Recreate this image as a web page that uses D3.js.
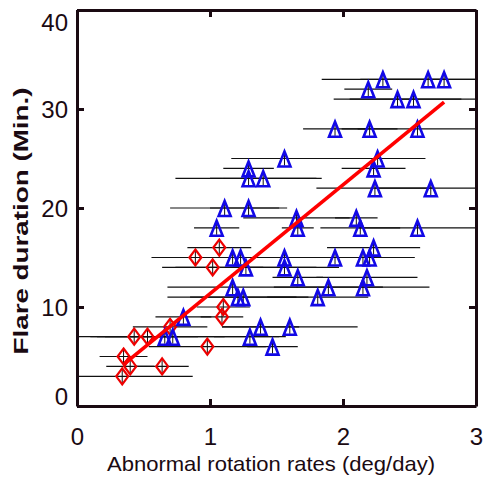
<!DOCTYPE html>
<html>
<head>
<meta charset="utf-8">
<script src="https://cdn.jsdelivr.net/npm/d3@7"></script>
<style>
  body { margin: 0; background: #fff; }
  text { font-family: "Liberation Sans", Arial, sans-serif; fill: #1a0a12; }
</style>
</head>
<body>
<div id="graph"></div>
<script>
// red diamonds: rate (deg/day), duration (min), horizontal error
var redRate = [1.07, 0.89, 1.02, 1.10, 1.09, 0.70, 0.43, 0.53, 0.98, 0.35, 0.40, 0.64, 0.34]
var redDur  = [16, 15, 14, 10, 9, 8, 7, 7, 6, 5, 4, 4, 3]
var redErr  = [0.24, 0.33, 0.38, 0.20, 0.16, 0.28, 0.33, 0.38, 0.44, 0.18, 0.18, 0.20, 0.53]

// blue triangles
var blueRate = [2.30, 2.64, 2.76, 2.19, 2.41, 2.53, 1.94, 2.20, 2.56, 1.56, 2.26,
  1.29, 2.23, 1.29, 1.40, 2.24, 2.66, 1.11, 1.29, 1.65, 2.10,
  1.05, 1.66, 2.13, 2.56, 2.23, 1.17, 1.23, 1.56, 1.94, 2.15, 2.20,
  1.27, 1.56, 1.66, 2.18, 1.17, 1.89, 2.15, 1.21, 1.25, 1.81,
  0.80, 1.38, 1.60, 0.66, 0.72, 1.30, 1.47]
var blueDur = [33, 33, 33, 32, 31, 31, 28, 28, 28, 25, 25,
  24, 24, 23, 23, 22, 22, 20, 20, 19, 19,
  18, 18, 18, 18, 16, 15, 15, 15, 15, 15, 15,
  14, 14, 13, 13, 12, 12, 12, 11, 11, 11,
  9, 8, 8, 7, 7, 7, 6]
var blueErr = [0.46, 0.51, 0.48, 0.18, 0.48, 0.48, 0.24, 0.21, 0.45, 0.40, 0.36,
  0.19, 0.24, 0.55, 0.40, 0.44, 0.42, 0.41, 0.29, 0.40, 0.16,
  0.17, 0.12, 0.30, 0.44, 0.35, 0.50, 0.45, 0.48, 0.34, 0.32, 0.34,
  0.53, 0.41, 0.19, 0.38, 0.49, 0.41, 0.50, 0.53, 0.40, 0.38,
  0.21, 0.29, 0.51, 0.45, 0.80, 0.27, 0.19]

// fitted line end points
var fitRate = [0.36, 2.76]
var fitDur = [4.3, 30.7]

var xTicks = [0, 1, 2, 3]
var yTicks = [0, 10, 20, 30, 40]

var W = 483, H = 488
var margin = {top: 10, right: 7, bottom: 82, left: 77},
  width = W - margin.left - margin.right,
  height = H - margin.top - margin.bottom

var axisColor = '#1a0a12'

var x = d3.scaleLinear().domain([0, 3]).range([0, width])
var y = d3.scaleLinear().domain([0, 40]).range([height, 0])

var svg = d3.select('#graph').append('svg')
  .attr('width', W)
  .attr('height', H)

svg.append('defs').append('clipPath').attr('id', 'plotclip')
  .append('rect').attr('width', width).attr('height', height)

var g = svg.append('g')
  .attr('transform', 'translate(' + margin.left + ',' + margin.top + ')')

function toPoints(rate, dur, err) {
  return rate.map(function(r, i) { return {x: r, y: dur[i], e: err[i]} })
}
var red = toPoints(redRate, redDur, redErr)
var blue = toPoints(blueRate, blueDur, blueErr)
var all = red.concat(blue)

var plot = g.append('g').attr('clip-path', 'url(#plotclip)')

// horizontal error bars
plot.selectAll('line.err')
  .data(all)
  .enter().append('line')
  .attr('class', 'err')
  .attr('x1', function(d) { return x(d.x - d.e) })
  .attr('x2', function(d) { return x(d.x + d.e) })
  .attr('y1', function(d) { return y(d.y) })
  .attr('y2', function(d) { return y(d.y) })
  .attr('stroke', '#111')
  .attr('stroke-width', 1.2)

// small vertical bar through each symbol
plot.selectAll('line.vbar')
  .data(all)
  .enter().append('line')
  .attr('class', 'vbar')
  .attr('x1', function(d) { return x(d.x) })
  .attr('x2', function(d) { return x(d.x) })
  .attr('y1', function(d) { return y(d.y) - 7 })
  .attr('y2', function(d) { return y(d.y) + 7 })
  .attr('stroke', '#111')
  .attr('stroke-width', 1)

plot.selectAll('path.diamond')
  .data(red)
  .enter().append('path')
  .attr('class', 'diamond')
  .attr('d', function(d) {
    var cx = x(d.x), cy = y(d.y)
    return 'M' + cx + ',' + (cy - 8) + 'L' + (cx + 6) + ',' + cy +
      'L' + cx + ',' + (cy + 8) + 'L' + (cx - 6) + ',' + cy + 'Z'
  })
  .attr('fill', 'none')
  .attr('stroke', '#ee0000')
  .attr('stroke-width', 2.2)

plot.selectAll('path.tri')
  .data(blue)
  .enter().append('path')
  .attr('class', 'tri')
  .attr('d', function(d) {
    var cx = x(d.x), cy = y(d.y) + 1
    return 'M' + cx + ',' + (cy - 8) + 'L' + (cx + 6) + ',' + (cy + 7) +
      'L' + (cx - 6) + ',' + (cy + 7) + 'Z'
  })
  .attr('fill', 'none')
  .attr('stroke', '#1208e6')
  .attr('stroke-width', 2.6)
  .attr('stroke-linejoin', 'miter')

// fit line
var fit = fitRate.map(function(r, i) { return [r, fitDur[i]] })
plot.append('path')
  .datum(fit)
  .attr('d', d3.line().x(function(d) { return x(d[0]) }).y(function(d) { return y(d[1]) }))
  .attr('fill', 'none')
  .attr('stroke', '#ff0000')
  .attr('stroke-width', 3.6)

// axes, ticks pointing inward
function styleAxis(sel) {
  sel.select('.domain').attr('stroke', axisColor).attr('stroke-width', 3)
  sel.selectAll('.tick line').attr('stroke', axisColor).attr('stroke-width', 3)
  sel.selectAll('text').style('font-size', '24px').attr('fill', axisColor)
}

var left = g.append('g')
  .call(d3.axisLeft(y).tickValues(yTicks).tickSize(-7).tickSizeOuter(0).tickPadding(9).tickFormat(d3.format('d')))
  .call(styleAxis)
// end labels sit inside the axis range
left.selectAll('text').attr('dy', function(d) {
  if (d === 40) return '0.85em'
  if (d === 0) return '-0.05em'
  return '0.34em'
})

g.append('g')
  .attr('transform', 'translate(' + width + ',0)')
  .call(d3.axisRight(y).tickValues(yTicks).tickSize(-7).tickSizeOuter(0).tickFormat(''))
  .call(styleAxis)

g.append('g')
  .attr('transform', 'translate(0,' + height + ')')
  .call(d3.axisBottom(x).tickValues(xTicks).tickSize(-7).tickSizeOuter(0).tickPadding(22).tickFormat(d3.format('d')))
  .call(styleAxis)

g.append('g')
  .call(d3.axisTop(x).tickValues(xTicks).tickSize(-7).tickSizeOuter(0).tickFormat(''))
  .call(styleAxis)

// axis titles
svg.append('text')
  .attr('x', 271)
  .attr('y', 471)
  .attr('text-anchor', 'middle')
  .attr('textLength', 328)
  .attr('lengthAdjust', 'spacingAndGlyphs')
  .style('font-size', '21px')
  .text('Abnormal rotation rates (deg/day)')

svg.append('text')
  .attr('transform', 'translate(28,221) rotate(-90)')
  .attr('text-anchor', 'middle')
  .attr('textLength', 267)
  .attr('lengthAdjust', 'spacingAndGlyphs')
  .style('font-size', '21px')
  .style('font-weight', 'bold')
  .text('Flare duration (Min.)')
</script>
</body>
</html>
